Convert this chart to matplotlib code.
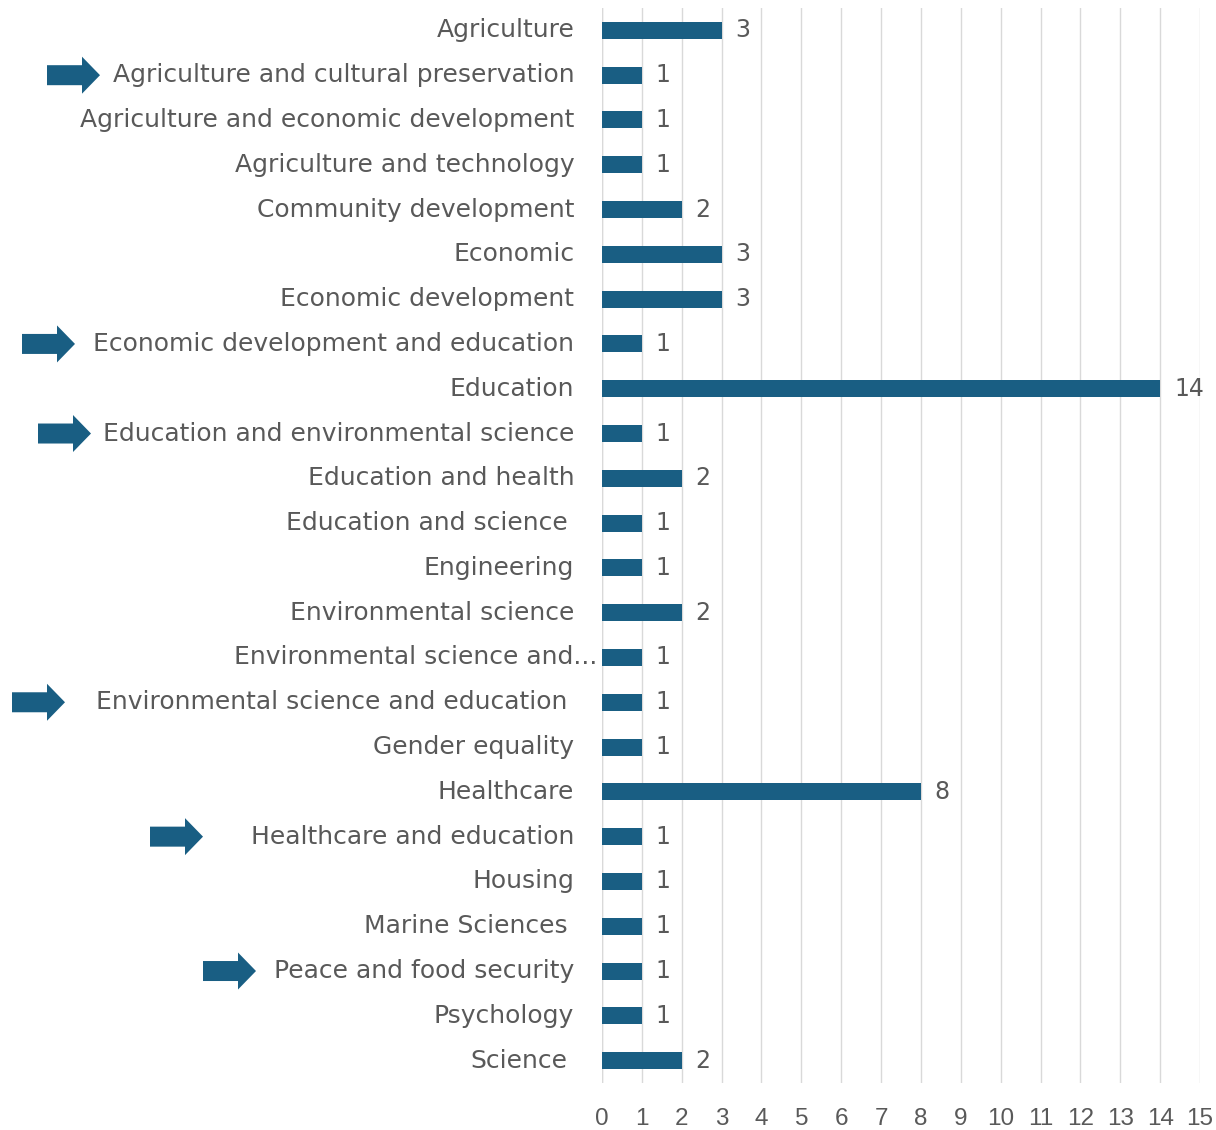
import matplotlib
matplotlib.use("Agg")
import matplotlib.pyplot as plt
import matplotlib.patches as patches
import numpy as np

# Datos del gráfico
categorias = [
    "Agriculture",
    "Agriculture and cultural preservation",
    "Agriculture and economic development",
    "Agriculture and technology",
    "Community development",
    "Economic",
    "Economic development",
    "Economic development and education",
    "Education",
    "Education and environmental science",
    "Education and health",
    "Education and science",
    "Engineering",
    "Environmental science",
    "Environmental science and...",
    "Environmental science and education",
    "Gender equality",
    "Healthcare",
    "Healthcare and education",
    "Housing",
    "Marine Sciences",
    "Peace and food security",
    "Psychology",
    "Science",
]
valores = [3, 1, 1, 1, 2, 3, 3, 1, 14, 1, 2, 1, 1, 2, 1, 1, 1, 8, 1, 1, 1, 1, 1, 2]
marcadas = [
    "Agriculture and cultural preservation",
    "Economic development and education",
    "Education and environmental science",
    "Environmental science and education",
    "Healthcare and education",
    "Peace and food security",
]
# punta de cada flecha (px desde la izquierda), colocadas a mano en el original
punta_flecha = [100, 75, 91, 65, 203, 256]
# etiquetas que en el original tienen un espacio final
con_espacio = ["Education and science", "Marine Sciences", "Science",
               "Environmental science and education"]
ticks_x = list(range(0, 16))

color_barra = "#195E83"
color_texto = "#595959"
fuente = "DejaVu Sans"
fuente_ticks = ["Liberation Sans Narrow", "Liberation Sans", "DejaVu Sans"]

fig = plt.figure(figsize=(12.16, 11.3), dpi=100)
ax = fig.add_axes([602 / 1216, 1 - 1083 / 1130, 598 / 1216, 1075 / 1130])

y = np.arange(len(categorias))
ax.barh(y, valores, height=0.38, color=color_barra, zorder=3)
ax.set_ylim(len(categorias) - 0.5, -0.5)
ax.set_xlim(0, 15)

ax.set_xticks(ticks_x)
ax.set_xticklabels([str(t) for t in ticks_x], fontsize=17.5, color=color_texto, family=fuente_ticks)
ax.tick_params(axis="x", length=0, pad=18)
ax.set_yticks([])
ax.grid(axis="x", color="#D9D9D9", linewidth=1, zorder=0)
for s in ax.spines.values():
    s.set_visible(False)
ax.axvline(0, color="#D9D9D9", linewidth=1, zorder=1)

# valores al final de cada barra
for yi, v in zip(y, valores):
    ax.annotate(str(v), (v, yi), xytext=(10, 0), textcoords="offset points",
                va="center", ha="left", fontsize=17, color=color_texto, family=fuente)

# etiquetas de categoría
for yi, c in zip(y, categorias):
    pad = -20
    if c in con_espacio:
        pad = -25
    if c.endswith("..."):
        pad = -3
    ax.annotate(c, (0, yi), xytext=(pad, 0), textcoords="offset points",
                va="center", ha="right", fontsize=18, color=color_texto, family=fuente)

# flechas a la izquierda de las etiquetas marcadas
W, H = fig.bbox.width, fig.bbox.height
for c, xfin in zip(marcadas, punta_flecha):
    yi = categorias.index(c)
    yc = ax.transData.transform((0, yi))[1]
    largo = 53
    flecha = patches.FancyArrow((xfin - largo) / W, yc / H, largo / W, 0,
                                width=20 / H, head_width=37 / H, head_length=18 / W,
                                length_includes_head=True, transform=fig.transFigure,
                                color=color_barra, linewidth=0)
    fig.patches.append(flecha)

fig.savefig("out.png", dpi=100)
